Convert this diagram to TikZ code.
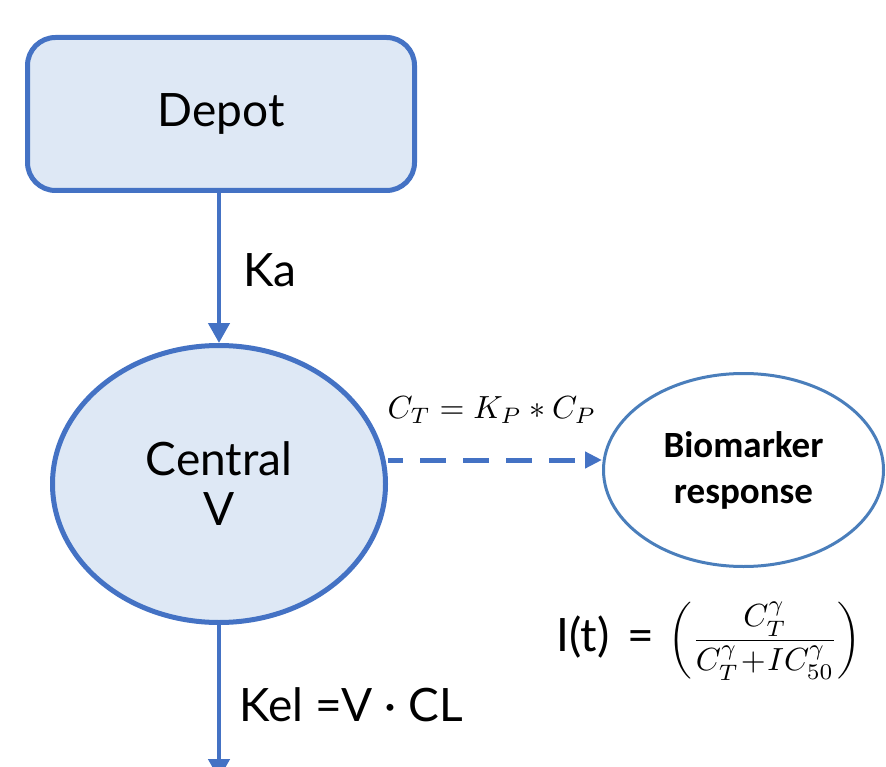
\documentclass[tikz,border=0pt]{standalone}
\usepackage{amsmath}
\usepackage[no-math]{fontspec}
\setmainfont{Lato}
\newfontfamily\calib{Carlito}
\usetikzlibrary{shapes.geometric,arrows.meta}
\definecolor{pkblue}{HTML}{4472C4}
\definecolor{pkfill}{HTML}{DEE8F5}
\definecolor{bioblue}{HTML}{4A7EBB}
\tikzset{
  big/.style={font=\fontsize{46}{50}\selectfont},
  flow/.style={draw=pkblue,line width=4.5pt,-{Triangle[length=20pt,width=21pt]}},
  dflow/.style={draw=pkblue,line width=5pt,dash pattern=on 26pt off 17pt,dash phase=11pt,-{Triangle[length=17pt,width=16pt]}},
  mathlbl/.style={scale=3.2,font=\fontsize{10}{12}\selectfont,inner sep=1pt},
}
\begin{document}
\begin{tikzpicture}[x=1pt,y=-1pt]
\useasboundingbox (0,0) rectangle (886,767);
\node[draw=pkblue,fill=pkfill,line width=5pt,rounded corners=28pt,minimum width=387pt,minimum height=153pt,inner sep=0pt,big] (depot) at (221,114) {Depot};
\node[ellipse,draw=pkblue,fill=pkfill,line width=5pt,minimum width=333pt,minimum height=277pt,inner sep=0pt,big,align=center] (central) at (219,484) {Central\\V};
\node[ellipse,draw=bioblue,line width=3pt,minimum width=280pt,minimum height=193pt,inner sep=0pt,align=center,font=\calib\bfseries\fontsize{37}{46}\selectfont] (bio) at (743.5,470) {Biomarker\\response};
\coordinate (out) at (219,779);
\draw[flow] (depot.south -| central.north) -- (central.north);
\draw[flow] (central.south) -- (out);
\draw[dflow] (central.east |- 0,460) -- (bio.west |- 0,460);
\node[big,anchor=west] (ka) at (240,270) {Ka};
\node[big,anchor=west] (kel) at (236,705) {Kel =V · CL};
\node[mathlbl,anchor=center] (ct) at (492,410) {$C_T = K_P * C_P$};
\node[mathlbl,anchor=center] (itfrac) at (765,641) {$\left(\dfrac{C_T^{\gamma}}{C_T^{\gamma}\!+\!IC_{50}^{\gamma}}\right)$};
\node[big,anchor=east,inner sep=0pt] (itlbl) at ([xshift=-10pt,yshift=4pt]itfrac.west) {I(t)\hspace{0.4em}=};
\end{tikzpicture}
\end{document}
